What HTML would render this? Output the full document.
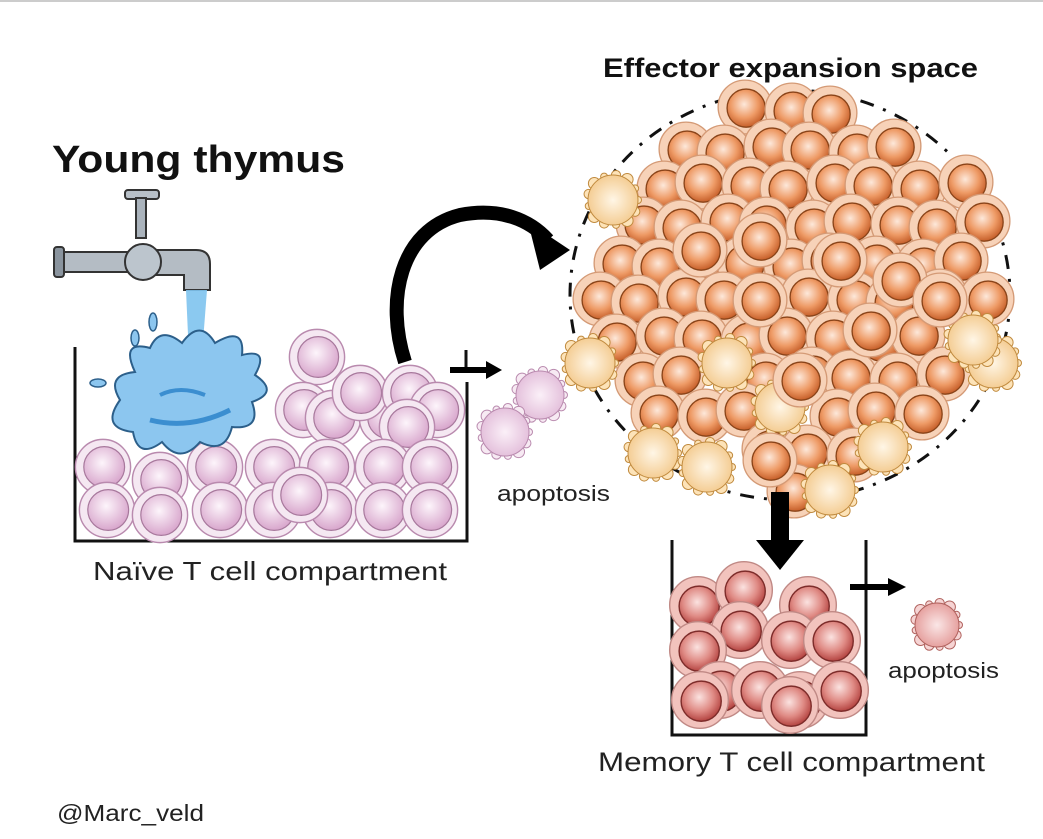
<!DOCTYPE html>
<html><head><meta charset="utf-8"><style>
html,body{margin:0;padding:0;background:#fff;width:1043px;height:839px;overflow:hidden}
svg{display:block}
text{font-family:"Liberation Sans",sans-serif}
</style></head><body>
<svg id="s" width="1043" height="839" viewBox="0 0 1043 839" xmlns="http://www.w3.org/2000/svg">
<defs>
<radialGradient id="gp" cx="0.45" cy="0.4" r="0.6"><stop offset="0" stop-color="#fdf5fb"/><stop offset="1" stop-color="#d8a6cc"/></radialGradient>
<radialGradient id="go" cx="0.45" cy="0.4" r="0.6"><stop offset="0" stop-color="#fde8da"/><stop offset="0.6" stop-color="#ee9a65"/><stop offset="1" stop-color="#c65f2a"/></radialGradient>
<radialGradient id="gy" cx="0.5" cy="0.5" r="0.55"><stop offset="0" stop-color="#fff6e6"/><stop offset="1" stop-color="#f3c98c"/></radialGradient>
<radialGradient id="gr" cx="0.45" cy="0.4" r="0.6"><stop offset="0" stop-color="#fbe2e0"/><stop offset="0.6" stop-color="#df8a84"/><stop offset="1" stop-color="#b44441"/></radialGradient>
<radialGradient id="gm" cx="0.5" cy="0.5" r="0.55"><stop offset="0" stop-color="#fae6e6"/><stop offset="1" stop-color="#e49a98"/></radialGradient>
<radialGradient id="gv" cx="0.5" cy="0.5" r="0.55"><stop offset="0" stop-color="#fbf0f8"/><stop offset="1" stop-color="#e2bcd9"/></radialGradient>
<symbol id="np" viewBox="-25 -25 50 50" overflow="visible"><circle r="23" fill="#f5e8f2" stroke="#b98aae" stroke-width="1.2"/><circle cx="1" cy="0" r="17" fill="url(#gp)" stroke="#a7789c" stroke-width="1"/></symbol>
<symbol id="or" viewBox="-25 -25 50 50" overflow="visible"><circle r="24" fill="#f7d2b8" stroke="#d49a76" stroke-width="1.2"/><circle cx="1" cy="1" r="17" fill="url(#go)" stroke="#8a4419" stroke-width="1.2"/></symbol>
<symbol id="me" viewBox="-25 -25 50 50" overflow="visible"><circle r="24" fill="#f2c3bd" stroke="#c08985" stroke-width="1.2"/><circle cx="1" cy="1" r="17" fill="url(#gr)" stroke="#7d2c2a" stroke-width="1.2"/></symbol>
</defs>
<line x1="0" y1="1" x2="1043" y2="1" stroke="#999" stroke-width="1"/>
<text x="52" y="172" font-size="38" font-weight="bold" fill="#111" textLength="293" lengthAdjust="spacingAndGlyphs">Young thymus</text>
<text x="603" y="77" font-size="27" font-weight="bold" fill="#111" textLength="375" lengthAdjust="spacingAndGlyphs">Effector expansion space</text>
<text x="93" y="580" font-size="26" fill="#222" textLength="354" lengthAdjust="spacingAndGlyphs">Naïve T cell compartment</text>
<text x="497" y="501" font-size="22" fill="#222" textLength="113" lengthAdjust="spacingAndGlyphs">apoptosis</text>
<text x="888" y="678" font-size="22" fill="#222" textLength="111" lengthAdjust="spacingAndGlyphs">apoptosis</text>
<text x="598" y="771" font-size="27" fill="#222" textLength="387" lengthAdjust="spacingAndGlyphs">Memory T cell compartment</text>
<text x="57" y="821" font-size="23" fill="#222" textLength="147" lengthAdjust="spacingAndGlyphs">@Marc_veld</text>

<!-- naive box -->
<path d="M75 347 V541 H467 V382" fill="none" stroke="#111" stroke-width="3"/>
<line x1="466" y1="350" x2="466" y2="368" stroke="#111" stroke-width="3"/>
<g id="naive"></g>
<!-- faucet -->
<g stroke="#333" stroke-width="2">
<rect x="125" y="190" width="34" height="9" rx="3" fill="#b8c0c8"/>
<rect x="136" y="198" width="10" height="40" fill="#aab3bc"/>
<rect x="60" y="252" width="100" height="20" rx="4" fill="#b4bcc4"/>
<rect x="54" y="247" width="10" height="30" rx="3" fill="#8a949e"/>
<path d="M150 250 H196 Q210 250 210 264 V290 H184 V275 H150 Z" fill="#b4bcc4"/>
<circle cx="143" cy="262" r="18" fill="#bcc5cd"/>
</g>
<path d="M186 290 L207 290 L200 380 L190 380 Z" fill="#7ec3ee" opacity="0.9"/>
<path d="M120 400 Q105 375 135 372 Q120 340 150 348 Q160 325 182 343 Q200 318 215 343 Q245 325 242 355 Q270 348 255 375 Q280 392 252 402 Q262 430 232 427 Q225 455 200 442 Q180 465 162 442 Q138 460 133 432 Q100 428 120 400 Z" fill="#8cc6ef" stroke="#2c5f8a" stroke-width="2"/>
<path d="M150 420 Q190 430 230 410" stroke="#3b8ed0" stroke-width="5" fill="none"/>
<path d="M160 395 Q180 385 205 395" stroke="#3b8ed0" stroke-width="4" fill="none"/>
<ellipse cx="153" cy="322" rx="4" ry="9" fill="#8cc6ef" stroke="#2c5f8a" stroke-width="1.5"/>
<ellipse cx="135" cy="338" rx="4" ry="8" fill="#8cc6ef" stroke="#2c5f8a" stroke-width="1.5"/>
<ellipse cx="98" cy="383" rx="8" ry="4" fill="#8cc6ef" stroke="#2c5f8a" stroke-width="1.5"/>

<!-- curved arrow -->
<path d="M405 362 C385 300 400 230 460 215 C500 207 530 220 548 240" fill="none" stroke="#000" stroke-width="14"/>
<polygon points="528,222 570,250 540,270" fill="#000"/>
<!-- straight arrow naive -->
<line x1="450" y1="370" x2="488" y2="370" stroke="#000" stroke-width="6"/>
<polygon points="486,361 502,370 486,379" fill="#000"/>

<!-- cluster dashed outline -->
<ellipse cx="790" cy="295" rx="220" ry="205" fill="none" stroke="#111" stroke-width="3" stroke-dasharray="14 10 3 10"/>
<g id="cluster"></g>
<!-- down arrow -->
<rect x="771" y="492" width="18" height="50" fill="#000"/>
<polygon points="756,540 804,540 780,570" fill="#000"/>
<!-- memory box -->
<path d="M672 540 V735 H866 V540" fill="none" stroke="#111" stroke-width="3"/>
<g id="mem"></g>
<line x1="850" y1="587" x2="890" y2="587" stroke="#000" stroke-width="6"/>
<polygon points="888,578 906,587 888,596" fill="#000"/>
<g id="apo"></g>
</svg>
<script>
var NS="http://www.w3.org/2000/svg";
function use(g,id,x,y,s){s=s||1;var u=document.createElementNS(NS,"use");u.setAttribute("href","#"+id);u.setAttribute("x",x-25*s);u.setAttribute("y",y-25*s);u.setAttribute("width",50*s);u.setAttribute("height",50*s);document.getElementById(g).appendChild(u);}
function blob(g,x,y,r,fill,st){var G=document.getElementById(g);var n=13;for(var i=0;i<n;i++){var a=i/n*6.283,c=document.createElementNS(NS,"circle");var rr=3.5+(i%3)*1.2;c.setAttribute("cx",x+Math.cos(a)*r);c.setAttribute("cy",y+Math.sin(a)*r);c.setAttribute("r",rr);c.setAttribute("fill",fill);c.setAttribute("stroke",st);c.setAttribute("stroke-width","1");G.appendChild(c);}
var m=document.createElementNS(NS,"circle");m.setAttribute("cx",x);m.setAttribute("cy",y);m.setAttribute("r",r);m.setAttribute("fill",fill==="#fde3b8"?"url(#gy)":(fill==="#f6d4d4"?"url(#gm)":"url(#gv)"));m.setAttribute("stroke",st);m.setAttribute("stroke-width","1");G.appendChild(m);}
var NS_=1.2;
[[317,357],[303,410],[333,418],[387,418],[360,393],[410,393],[437,410],[407,427],
[103,467],[160,480],[215,467],[273,467],[327,467],[383,467],[430,467],
[107,510],[160,515],[220,510],[273,510],[330,510],[383,510],[430,510],[300,495]].forEach(function(p){use("naive","np",p[0],p[1],NS_);});
var C=[[613,200],[590,363],[727,363],[780,407],[993,363],[973,340],[653,453],[707,467],[830,490],[883,447]];
var pts=[];
for(var y=110;y<=490;y+=38){var off=((y-110)/38)%2?21:0;for(var x=575+off;x<=1010;x+=43){var dx=(x-790)/215,dy=(y-295)/195;if(dx*dx+dy*dy<=1.0){pts.push([x+((x*7+y)%9-4),y+((x*3+y*5)%9-4)]);}}}
pts.forEach(function(p){var near=C.some(function(c){return Math.hypot(c[0]-p[0],c[1]-p[1])<30;});if(!near)use("cluster","or",p[0],p[1],1.12);});
C.forEach(function(c){blob("cluster",c[0],c[1],25,"#fde3b8","#c08a3e");});
[[700,250],[760,240],[840,260],[900,280],[760,300],[870,330],[800,380],[770,460],[940,300]].forEach(function(p){use("cluster","or",p[0],p[1],1.12);});
[[698,605],[744,590],[808,605],[740,630],[790,640],[832,640],[698,650],[720,690],[760,690],[800,700],[840,690],[700,700],[790,705]].forEach(function(p){use("mem","me",p[0],p[1],1.18);});
blob("apo",540,395,24,"#f7eaf3","#b98aae");
blob("apo",505,432,24,"#f7eaf3","#b98aae");
blob("apo",937,625,22,"#f6d4d4","#b0625e");
</script>
</body></html>
